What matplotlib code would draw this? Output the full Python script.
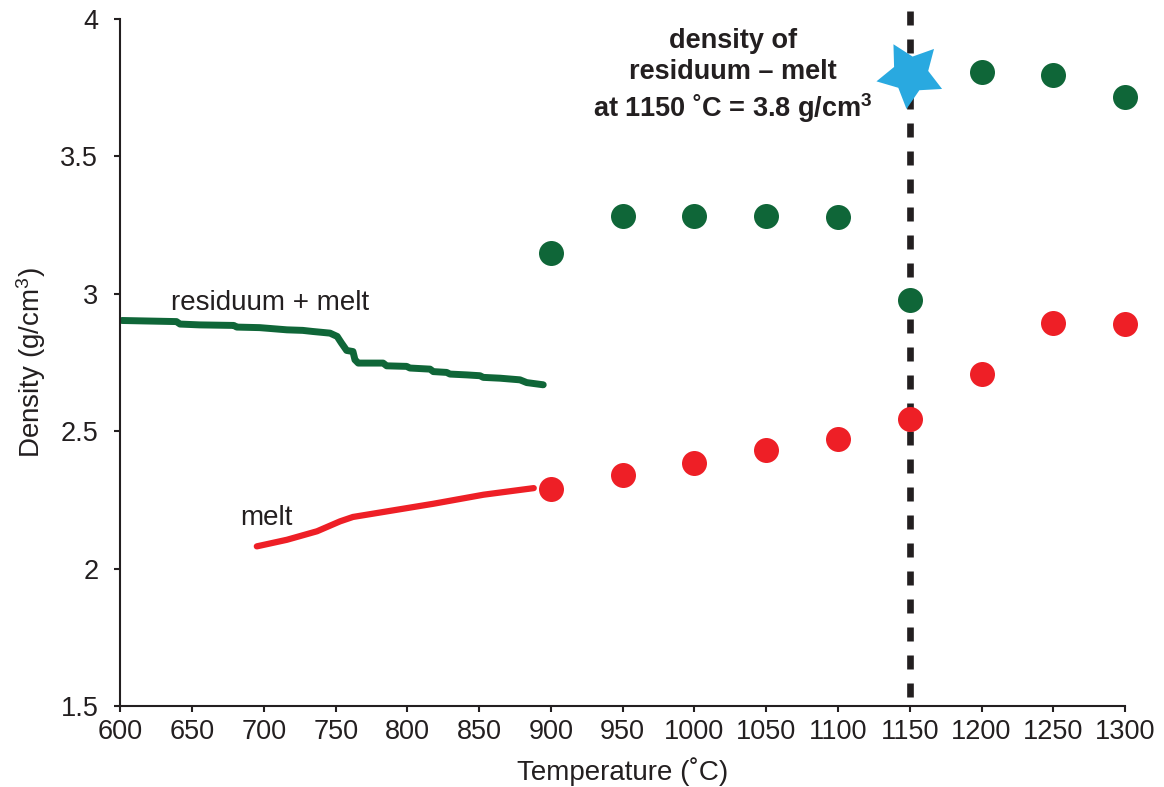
import numpy as np
import matplotlib
matplotlib.use("Agg")
import matplotlib.pyplot as plt
from matplotlib.markers import MarkerStyle
from matplotlib.path import Path
from matplotlib.transforms import Affine2D

plt.rcParams['font.family'] = ['Liberation Sans', 'DejaVu Sans']
plt.rcParams['mathtext.fontset'] = 'custom'
plt.rcParams['mathtext.rm'] = 'Liberation Sans'
plt.rcParams['mathtext.bf'] = 'Liberation Sans:bold'
plt.rcParams['mathtext.default'] = 'regular'

# residuum + melt curve
res_T = [601, 639, 641.5, 655, 679, 681, 697, 716, 727, 734, 746, 751, 754,
         757.6, 762, 763.4, 765.7, 783, 785.5, 799.4, 801.7, 815.7, 818, 827.3,
         829.6, 841.3, 850.5, 852.8, 864.5, 878.4, 883.1, 894.6]
res_D = [2.903, 2.899, 2.890, 2.887, 2.885, 2.879, 2.877, 2.869, 2.867, 2.863,
         2.857, 2.845, 2.821, 2.794, 2.790, 2.760, 2.748, 2.748, 2.738, 2.736,
         2.730, 2.726, 2.717, 2.714, 2.708, 2.705, 2.702, 2.696, 2.693, 2.687,
         2.677, 2.669]

# melt curve
melt_T = [695, 716, 737, 753, 762, 783, 818, 853, 888]
melt_D = [2.081, 2.105, 2.136, 2.172, 2.188, 2.206, 2.236, 2.269, 2.293]

# point data
pts_T = [900, 950, 1000, 1050, 1100, 1150, 1200, 1250, 1300]
res_pts = [3.150, 3.284, 3.285, 3.285, 3.278, 2.978, 3.807, 3.796, 3.716]
melt_pts = [2.291, 2.339, 2.384, 2.432, 2.472, 2.545, 2.709, 2.895, 2.891]

star_T, star_D = 1150, 3.8
green = '#0f6638'
red = '#ee1f26'
blue = '#29a9e0'
ink = '#231f20'

fig = plt.figure(figsize=(11.64, 7.87), dpi=100)
ax = fig.add_axes([0.1035, 0.1029, 0.8630, 0.8729])

ax.plot([1150, 1150], [4.03, 1.5], color=ink, lw=4.8, dashes=(2.1, 2.1),
        clip_on=False, zorder=1)

ax.plot(res_T, res_D, color=green, lw=5, solid_capstyle='round', zorder=2)
ax.plot(melt_T, melt_D, color=red, lw=4.5, solid_capstyle='round', zorder=2)
ax.plot(pts_T, res_pts, 'o', color=green, ms=18, mec='none', zorder=3, clip_on=False)
ax.plot(pts_T, melt_pts, 'o', color=red, ms=18, mec='none', zorder=3, clip_on=False)

# fatter five-point star, tilted like the original
star_path = Path.unit_regular_star(5, innerCircle=0.52)
star = MarkerStyle(star_path, transform=Affine2D().rotate_deg(29.4))
ax.plot([star_T], [star_D], marker=star, color=blue, ms=50, mec='none',
        ls='none', zorder=4, clip_on=False)

ax.text(1027, 3.79, 'density of\nresiduum \u2013 melt\nat 1150 \u02daC = 3.8 g/cm$^\\mathbf{3}$',
        ha='center', va='center', multialignment='center', fontsize=19.5,
        fontweight='bold', color=ink, linespacing=1.25)
ax.text(704, 2.967, 'residuum + melt', ha='center', va='center', fontsize=20, color=ink)
ax.text(702, 2.185, 'melt', ha='center', va='center', fontsize=20, color=ink)

ax.set_xlim(600, 1300)
ax.set_ylim(1.5, 4)
ax.set_xticks(np.arange(600, 1301, 50))
ax.set_yticks([1.5, 2, 2.5, 3, 3.5, 4])
ax.set_yticklabels(['1.5', '2', '2.5', '3', '3.5', '4'])

for s in ['top', 'right']:
    ax.spines[s].set_visible(False)
for s in ['left', 'bottom']:
    ax.spines[s].set_linewidth(1.5)
    ax.spines[s].set_color(ink)

ax.tick_params(axis='both', direction='out', length=4, width=1.5, color=ink,
               labelsize=19.5, labelcolor=ink)
ax.tick_params(axis='x', pad=5)
ax.tick_params(axis='y', pad=12)

ax.set_xlabel('Temperature (\u02daC)', fontsize=20, color=ink, labelpad=9)
ax.set_ylabel('Density (g/cm$^3$)', fontsize=20, color=ink, labelpad=9)

fig.savefig('out.png', dpi=100)
